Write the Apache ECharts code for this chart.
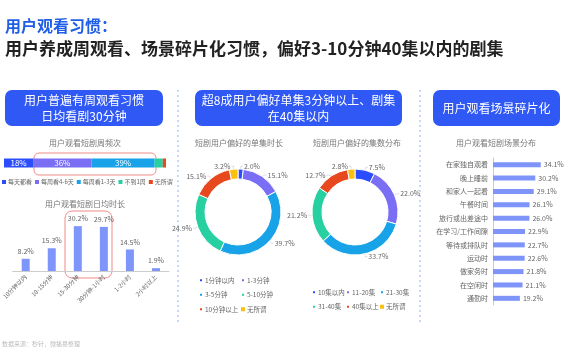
<!DOCTYPE html>
<html>
<head>
<meta charset="utf-8">
<script src="https://cdn.jsdelivr.net/npm/echarts@6/dist/echarts.min.js"></script>
<style>
html,body{margin:0;padding:0;background:#fff;}
#main{width:570px;height:360px;}
</style>
</head>
<body>
<div id="main"></div>
<script>
// 周频次
var weekNames = ['每天都看', '每周看4-6天', '每周看1-3天', '不到1周', '无所谓'];
var weekValues = [18, 36, 39, 5, 2];
var weekColors = ['#2c4dfb', '#7a6ef5', '#18a3e8', '#27d0a0', '#e8481d'];

// 日均时长
var dayCats = ['10分钟以内', '10-15分钟', '15-30分钟', '30分钟-1小时', '1-2小时', '2小时以上'];
var dayValues = [8.2, 15.3, 30.2, 29.7, 14.5, 1.9];

// 单集时长
var epNames = ['1分钟以内', '1-3分钟', '3-5分钟', '5-10分钟', '10分钟以上', '无所谓'];
var epValues = [2.0, 15.1, 39.7, 24.9, 15.1, 3.2];

// 集数分布
var cntNames = ['10集以内', '11-20集', '21-30集', '31-40集', '40集以上', '无所谓'];
var cntValues = [7.5, 22.0, 33.7, 21.2, 12.7, 2.8];

var pieColors = ['#2c4dfb', '#7a6ef5', '#18a3e8', '#27d0a0', '#e8481d', '#fbbf0e'];

// 场景分布
var sceneCats = ['在家独自观看', '晚上睡前', '和家人一起看', '午餐时间', '旅行或出差途中', '在学习/工作间隙', '等待或排队时', '运动时', '做家务时', '在空闲时', '通勤时'];
var sceneValues = [34.1, 30.2, 29.1, 26.1, 26.0, 22.9, 22.7, 22.6, 21.8, 21.1, 19.2];

var myCharts = echarts.init(document.getElementById('main'));
var fontFam = '"Noto Sans CJK SC", sans-serif';
var gray = '#666666';

function pct(p) {
    return Number(p.value).toFixed(1) + '%';
}

function legendItems(names, idx) {
    var arr = [];
    for (var i = 0; i < idx.length; i++) {
        arr.push({ name: names[idx[i]], itemStyle: { color: pieColors[idx[i]] } });
    }
    return arr;
}

function colLegend(names, idx, left, top) {
    return {
        orient: 'vertical', left: left, top: top,
        itemWidth: 4, itemHeight: 4, itemGap: 8, icon: 'rect', padding: 0,
        textStyle: { fontSize: 6.5, color: gray, fontFamily: fontFam, padding: [0, 0, 0, -3] },
        data: legendItems(names, idx), selectedMode: false
    };
}

// 周频次的堆叠条
var weekSeries = [];
for (var i = 0; i < weekNames.length; i++) {
    weekSeries.push({
        name: weekNames[i], type: 'bar', stack: 'w', xAxisIndex: 0, yAxisIndex: 0,
        barWidth: 9, data: [weekValues[i]], itemStyle: { color: weekColors[i] },
        label: { show: i < 3, position: 'inside', color: '#fff', fontSize: 8, formatter: '{c}%' }
    });
}

function box(x, y, w, h, lines) {
    return {
        type: 'group', children: [
            { type: 'rect', shape: { x: x, y: y, width: w, height: h, r: 7 }, style: { fill: '#2f58f4' } },
            { type: 'text', x: x + w / 2, y: y + h / 2, style: { text: lines, fill: '#fff', font: '12px ' + fontFam, align: 'center', verticalAlign: 'middle', lineHeight: 16 } }
        ]
    };
}

function sub(x, y, t, align) {
    return { type: 'text', x: x, y: y, style: { text: t, fill: '#777', font: '8px ' + fontFam, align: align || 'center', verticalAlign: 'middle' } };
}

var option = {
    animation: false,
    textStyle: { fontFamily: fontFam },
    graphic: [
        { type: 'text', x: 5, y: 18, style: { text: '用户观看习惯：', fill: '#1f5ee6', font: 'bold 16px ' + fontFam } },
        { type: 'text', x: 5, y: 40, style: { text: '用户养成周观看、场景碎片化习惯，偏好3-10分钟40集以内的剧集', fill: '#222', font: 'bold 17px ' + fontFam } },
        box(5, 90, 158, 36, '用户普遍有周观看习惯\n日均看剧30分钟'),
        box(195, 90, 207, 36, '超8成用户偏好单集3分钟以上、剧集\n在40集以内'),
        box(433, 90, 127, 36, '用户观看场景碎片化'),
        sub(85, 143, '用户观看短剧周频次'),
        sub(85, 204, '用户观看短剧日均时长'),
        sub(195, 143, '短剧用户偏好的单集时长', 'left'),
        sub(313, 143, '短剧用户偏好的集数分布', 'left'),
        sub(496, 143, '用户观看短剧场景分布'),
        { type: 'rect', shape: { x: 34, y: 153, width: 122, height: 22, r: 5 }, style: { fill: null, stroke: '#f08a8a', lineWidth: 1 } },
        { type: 'rect', shape: { x: 65, y: 211, width: 47, height: 67, r: 7 }, style: { fill: null, stroke: '#f08a8a', lineWidth: 1 } },
        { type: 'line', shape: { x1: 178, y1: 90, x2: 178, y2: 322 }, style: { stroke: '#8fb0f5', lineWidth: 1, lineDash: [2, 3] } },
        { type: 'line', shape: { x1: 420, y1: 90, x2: 420, y2: 322 }, style: { stroke: '#8fb0f5', lineWidth: 1, lineDash: [2, 3] } },
        { type: 'text', x: 2, y: 341, style: { text: '数据来源：秒针，微播易整理', fill: '#bbb', font: '6px ' + fontFam } }
    ],
    legend: [
        {
            left: 2, top: 179, itemWidth: 4, itemHeight: 4, itemGap: 3, icon: 'rect', padding: 0,
            textStyle: { fontSize: 6, color: gray, fontFamily: fontFam, padding: [0, 0, 0, -3] },
            data: weekNames, selectedMode: false
        },
        colLegend(epNames, [0, 2, 4], 198, 277),
        colLegend(epNames, [1, 3, 5], 240, 277),
        colLegend(cntNames, [0, 3], 311, 289),
        colLegend(cntNames, [1, 4], 345, 289),
        colLegend(cntNames, [2, 5], 379, 289)
    ],
    grid: [
        { left: 4, top: 158, width: 162, height: 10 },
        { left: 10, top: 219, width: 159, height: 52 },
        { left: 493, top: 158, width: 56, height: 147 }
    ],
    xAxis: [
        { gridIndex: 0, type: 'value', max: 100, show: false },
        {
            gridIndex: 1, type: 'category', data: dayCats,
            axisLine: { lineStyle: { color: '#cccccc' } }, axisTick: { show: false },
            axisLabel: { rotate: 45, fontSize: 6, color: gray, margin: 5, interval: 0 }
        },
        { gridIndex: 2, type: 'value', max: 40, show: false }
    ],
    yAxis: [
        { gridIndex: 0, type: 'category', data: [''], show: false },
        { gridIndex: 1, type: 'value', max: 35, show: false },
        {
            gridIndex: 2, type: 'category', data: sceneCats, inverse: true,
            axisLine: { lineStyle: { color: '#cccccc' } }, axisTick: { show: false },
            axisLabel: { fontSize: 7, color: gray, margin: 5 }
        }
    ],
    series: weekSeries.concat([
        {
            type: 'bar', xAxisIndex: 1, yAxisIndex: 1, data: dayValues, barWidth: 8,
            itemStyle: { color: '#7e96fb' },
            label: { show: true, position: 'top', fontSize: 7, color: gray, formatter: pct, distance: 4 }
        },
        {
            type: 'bar', xAxisIndex: 2, yAxisIndex: 2, data: sceneValues, barWidth: 5,
            itemStyle: { color: '#7e94f8' },
            label: { show: true, position: 'right', fontSize: 7, color: gray, formatter: pct, distance: 3 }
        },
        {
            type: 'pie', center: [238, 212], radius: [33, 43], startAngle: 90,
            color: pieColors,
            data: epNames.map(function (n, i) { return { name: n, value: epValues[i] }; }),
            label: { show: true, position: 'outside', fontSize: 7, color: gray, formatter: pct, distanceToLabelLine: 1 },
            labelLine: { show: true, length: 3, length2: 2, lineStyle: { color: '#bbb', width: 0.5 } },
            itemStyle: { borderColor: '#fff', borderWidth: 1 }
        },
        {
            type: 'pie', center: [355, 212], radius: [33, 43], startAngle: 90,
            color: pieColors,
            data: cntNames.map(function (n, i) { return { name: n, value: cntValues[i] }; }),
            label: { show: true, position: 'outside', fontSize: 7, color: gray, formatter: pct, distanceToLabelLine: 1 },
            labelLine: { show: true, length: 3, length2: 2, lineStyle: { color: '#bbb', width: 0.5 } },
            itemStyle: { borderColor: '#fff', borderWidth: 1 }
        }
    ])
};

myCharts.setOption(option);
</script>
</body>
</html>
